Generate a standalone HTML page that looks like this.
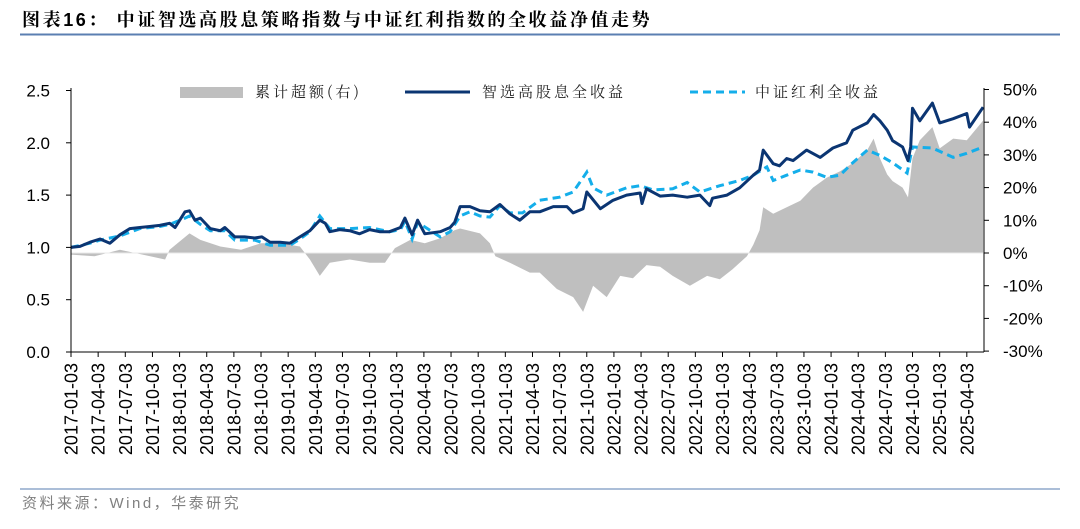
<!DOCTYPE html>
<html><head><meta charset="utf-8">
<style>
body{margin:0;background:#fff;width:1080px;height:524px;overflow:hidden;font-family:"Liberation Sans","Noto Sans CJK SC",sans-serif;}
svg text{font-family:"Liberation Sans","Noto Sans CJK SC",sans-serif;}
</style></head>
<body>
<svg id="chart" width="1080" height="524" xmlns="http://www.w3.org/2000/svg">
<text x="22" y="26" font-size="18" font-weight="bold" fill="#000" letter-spacing="2.6" style='font-family:"Liberation Sans","Noto Serif CJK SC",serif'>图表16：  中证智选高股息策略指数与中证红利指数的全收益净值走势</text>
<line x1="20" y1="34.5" x2="1060" y2="34.5" stroke="#5b7fb2" stroke-width="2"/>
<line x1="20" y1="489" x2="1060" y2="489" stroke="#8fa9cc" stroke-width="1.5"/>
<text x="22" y="508" font-size="15" fill="#808080" letter-spacing="2.5">资料来源：Wind，华泰研究</text>
<g id="plot"></g>
<g>
<rect x="180" y="87" width="63" height="11" fill="#bfbfbf"/>
<text x="255" y="97" font-size="15" fill="#222" letter-spacing="3" style='font-family:"Noto Serif CJK SC",serif'>累计超额(右)</text>
<line x1="405" y1="92" x2="470" y2="92" stroke="#0b3572" stroke-width="3"/>
<text x="482" y="97" font-size="15" fill="#222" letter-spacing="3" style='font-family:"Noto Serif CJK SC",serif'>智选高股息全收益</text>
<line x1="690" y1="92" x2="745" y2="92" stroke="#14aeea" stroke-width="3" stroke-dasharray="8,5"/>
<text x="755" y="97" font-size="15" fill="#222" letter-spacing="3" style='font-family:"Noto Serif CJK SC",serif'>中证红利全收益</text>
</g>
</svg>
<script>
// time in months since 2017-01-03
const xTickLabels=["2017-01-03","2017-04-03","2017-07-03","2017-10-03","2018-01-03","2018-04-03","2018-07-03","2018-10-03","2019-01-03","2019-04-03","2019-07-03","2019-10-03","2020-01-03","2020-04-03","2020-07-03","2020-10-03","2021-01-03","2021-04-03","2021-07-03","2021-10-03","2022-01-03","2022-04-03","2022-07-03","2022-10-03","2023-01-03","2023-04-03","2023-07-03","2023-10-03","2024-01-03","2024-04-03","2024-07-03","2024-10-03","2025-01-03","2025-04-03"];
const leftTicks=[0,0.5,1.0,1.5,2.0,2.5];
const rightTicks=[-30,-20,-10,0,10,20,30,40,50];
const smartT=[0,1.0,2.1,3.2,4.3,5.4,6.5,7.6,8.7,9.8,10.9,11.5,12.6,13.1,13.7,14.3,15.4,16.5,17.0,18.1,19.2,20.3,21.1,22.0,23.1,24.2,25.3,26.4,27.5,28.1,28.6,29.7,30.8,31.9,33.0,34.1,35.2,36.4,36.9,37.7,38.3,39.1,40.8,41.9,42.4,43.0,44.1,45.2,46.3,47.4,48.5,49.6,50.7,51.8,53.3,54.8,55.5,56.6,57.0,58.5,59.9,61.4,62.9,63.1,63.6,65.1,66.5,68.1,69.5,70.6,70.9,72.5,73.9,75.4,76.1,76.5,77.6,78.3,79.1,79.8,81.3,82.8,84.2,85.7,86.4,88.0,88.7,89.4,90.2,90.8,91.9,92.5,92.8,93.0,93.8,95.2,96.0,97.5,99.0,99.3,100.8];
const smartV=[1.0,1.01,1.05,1.08,1.04,1.12,1.18,1.19,1.20,1.21,1.23,1.19,1.34,1.35,1.26,1.28,1.18,1.16,1.19,1.10,1.10,1.09,1.10,1.05,1.05,1.04,1.10,1.16,1.26,1.23,1.15,1.17,1.16,1.13,1.17,1.15,1.15,1.19,1.28,1.12,1.26,1.13,1.15,1.19,1.24,1.39,1.39,1.35,1.34,1.41,1.32,1.26,1.34,1.34,1.39,1.39,1.33,1.37,1.53,1.37,1.45,1.50,1.52,1.42,1.56,1.49,1.50,1.48,1.50,1.40,1.47,1.50,1.57,1.69,1.74,1.93,1.80,1.78,1.85,1.83,1.93,1.86,1.95,2.00,2.12,2.19,2.27,2.21,2.12,2.02,1.96,1.83,1.96,2.33,2.21,2.38,2.19,2.23,2.28,2.15,2.34];
const divT=[0,2.1,3.2,5.4,7.6,9.8,10.9,12.6,13.1,14.3,15.4,17.0,18.1,20.3,22.0,24.2,25.3,26.4,27.5,28.6,30.8,33.0,35.2,36.4,36.9,37.7,38.3,40.8,41.9,43.0,44.1,45.2,46.3,47.4,48.5,49.9,51.8,54.0,55.5,57.0,57.7,59.2,61.4,62.9,64.3,66.5,68.1,69.5,71.7,73.9,75.4,76.9,77.6,79.1,80.6,82.0,83.5,85.0,86.4,88.0,89.4,90.8,92.4,93.0,95.2,97.5,99.0,100.8];
const divV=[1.0,1.04,1.07,1.11,1.18,1.20,1.22,1.28,1.30,1.22,1.16,1.16,1.07,1.07,1.02,1.02,1.08,1.15,1.30,1.18,1.18,1.19,1.15,1.17,1.25,1.08,1.24,1.10,1.15,1.30,1.34,1.30,1.29,1.40,1.33,1.33,1.45,1.48,1.53,1.72,1.57,1.50,1.57,1.59,1.55,1.56,1.62,1.53,1.59,1.64,1.69,1.77,1.64,1.69,1.74,1.72,1.67,1.69,1.81,1.93,1.88,1.81,1.71,1.96,1.95,1.86,1.90,1.96];
const excessT=[0,2.6,5.4,10.4,10.9,13.1,14.3,16.5,18.8,21.0,23.1,25.3,26.4,27.5,28.6,30.8,33.0,34.7,35.8,37.5,39.1,40.8,42.4,43.0,45.2,46.3,46.9,48.5,50.7,51.8,53.7,55.5,56.6,57.7,59.2,60.7,62.1,63.6,65.1,66.5,68.4,70.3,71.7,73.1,74.7,75.4,76.1,76.5,77.6,79.1,80.6,82.0,83.5,85.0,86.4,88.0,88.7,89.4,90.2,90.8,91.9,92.5,93.0,93.8,95.2,96.0,97.5,99.0,100.8];
const excessV=[-0.5,-1,1,-2,1,6,4,2,1,3,3,2,-2,-7,-3,-2,-3,-3,1.5,4,3,4.5,7,7.5,6,3,-1,-3,-6,-6,-11,-13.5,-18,-10,-13.5,-7,-7.7,-3.7,-4.2,-7,-10,-7,-8,-5,-1,2.5,7,14,12,14,16,20,23,25,27.5,31.5,35,29,24,22,20,17,29,34.5,38.5,32,35,34.5,40.5];

const X0=71,X1=984,TMAX=100.9;
const xS=t=>X0+(X1-X0)*t/TMAX;
const yL=v=>352-v*104.6;
const yR=v=>253-v*3.27;
const NS="http://www.w3.org/2000/svg";
const plot=document.getElementById('plot');
function mk(tag,attrs){const e=document.createElementNS(NS,tag);for(const k in attrs)e.setAttribute(k,attrs[k]);plot.appendChild(e);return e;}

let d=`M${xS(excessT[0])},${yR(0)}`;
excessT.forEach((t,i)=>{d+=` L${xS(t).toFixed(1)},${yR(excessV[i]).toFixed(1)}`;});
d+=` L${xS(excessT[excessT.length-1])},${yR(0)} Z`;
const area=mk('path',{d:d,fill:'#bfbfbf'});


const zl=mk('line',{x1:X0,x2:X1,y1:yR(0),y2:yR(0),stroke:'#e8e8e8','stroke-width':1});



const dl=mk('path',{d:divT.map((t,i)=>(i?'L':'M')+xS(t).toFixed(1)+','+yL(divV[i]).toFixed(1)).join(' '),fill:'none',stroke:'#14aeea','stroke-width':3,'stroke-dasharray':'8,5'});


const sl=mk('path',{d:smartT.map((t,i)=>(i?'L':'M')+xS(t).toFixed(1)+','+yL(smartV[i]).toFixed(1)).join(' '),fill:'none',stroke:'#0b3572','stroke-width':3,'stroke-linejoin':'round'});



const la=mk('line',{x1:X0,x2:X0,y1:88,y2:352,stroke:'#000','stroke-width':1});


const ra=mk('line',{x1:X1,x2:X1,y1:88,y2:352,stroke:'#000','stroke-width':1});


const xa=mk('line',{x1:X0,x2:X1,y1:352,y2:352,stroke:'#000','stroke-width':1});



leftTicks.forEach(v=>{
  const tk=mk('line',{x1:X0-5,x2:X0,y1:yL(v),y2:yL(v),stroke:'#000'});
  
  
  const tx=mk('text',{x:50,y:yL(v)+6,'text-anchor':'end','font-size':17,fill:'#000'});
  tx.textContent=v.toFixed(1);
  
  
});
rightTicks.forEach(v=>{
  const tk=mk('line',{x1:X1,x2:X1+5,y1:yR(v),y2:yR(v),stroke:'#000'});
  
  
  const tx=mk('text',{x:1003,y:yR(v)+6,'font-size':17,fill:'#000'});
  tx.textContent=v+'%';
  
  
});
xTickLabels.forEach((lab,i)=>{
  const x=xS(i*3);
  const tk=mk('line',{x1:x,x2:x,y1:352,y2:357,stroke:'#000'});
  
  
  const tx=mk('text',{x:0,y:0,'text-anchor':'end','font-size':18,fill:'#000',transform:`translate(${(x+6.5).toFixed(1)},363) rotate(-90)`});
  tx.textContent=lab;
  
  
});
</script>
</body></html>
